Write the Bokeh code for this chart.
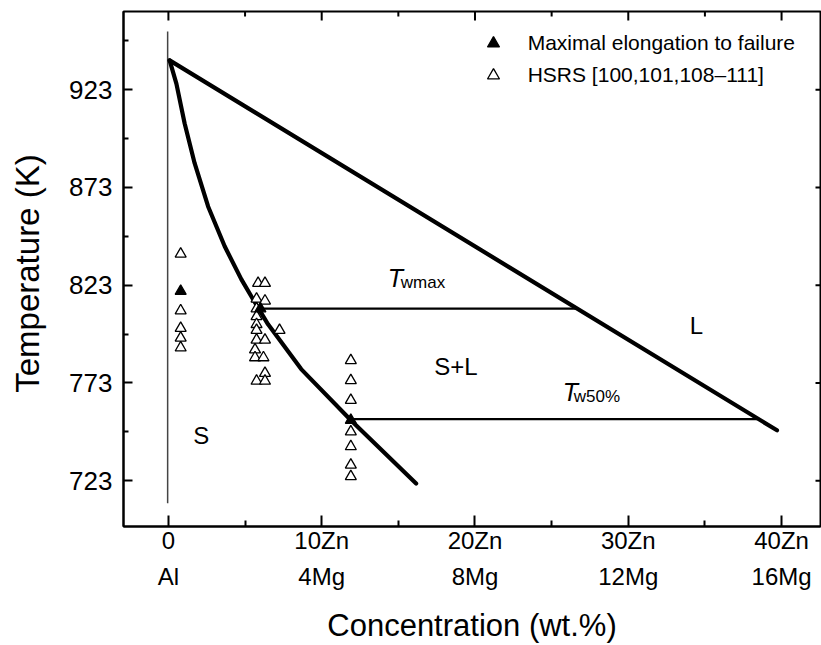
import math

from bokeh.plotting import figure
from bokeh.models import (LinearAxis, FixedTicker, Range1d, Legend, LegendItem, Label)
from bokeh.embed import file_html
from bokeh.resources import INLINE

# ---- Al-Zn-Mg pseudo-binary section (Zn:Mg = 10:4), wt.% Zn on x, K on y ----

# liquidus (straight line from the Al melting point)
liquidus_zn = [0.08, 39.7]
liquidus_t = [938.0, 748.8]

# solidus curve
solidus_zn = [0.08, 0.52, 1.06, 1.71, 2.59, 3.67, 4.76, 5.52, 6.50, 8.66, 11.92, 16.16]
solidus_t = [938.0, 926.1, 905.7, 885.4, 863.3, 842.9, 826.0, 815.8, 803.0, 780.1, 753.8, 721.6]

# isotherms
twmax_zn = [6.17, 26.69]
twmax_t = [811.0, 811.0]
tw50_zn = [11.92, 38.42]
tw50_t = [754.5, 754.5]

# pure Al reference line
al_zn = [-0.05, -0.05]
al_t = [952.8, 711.5]

# maximal elongation to failure
max_zn = [0.8, 6.0, 11.9]
max_t = [820.0, 811.0, 754.0]

# high strain rate superplasticity data
hsrs_zn = [0.8, 0.8, 0.8, 0.8, 0.8,
           5.85, 6.3, 5.75, 6.3, 5.75, 5.75, 5.75, 5.75, 7.25, 5.75, 6.3,
           5.65, 5.65, 6.2, 6.3, 5.75, 6.3,
           11.9, 11.9, 11.9, 11.9, 11.9, 11.9, 11.9]
hsrs_t = [839.0, 810.0, 801.0, 796.0, 791.0,
          824.0, 824.0, 816.0, 815.0, 811.0, 807.0, 803.0, 800.0, 800.0, 795.0, 795.0,
          790.0, 786.0, 786.0, 778.0, 774.0, 774.0,
          784.5, 774.3, 764.2, 748.1, 740.5, 731.1, 725.2]

# axis ticks and labels
zn_ticks = [0, 10, 20, 30, 40]
zn_minor = [5, 15, 25, 35]
zn_labels = ["0", "10Zn", "20Zn", "30Zn", "40Zn"]
mg_labels = ["Al", "4Mg", "8Mg", "12Mg", "16Mg"]
t_ticks = [723, 773, 823, 873, 923]
t_minor = [748, 798, 848, 898, 948]

FONT = "Liberation Sans"

x_range = Range1d(-2.93, 42.54)
y_range = Range1d(699.6, 963.0)

p = figure(width=821, height=645, x_range=x_range, y_range=y_range,
           output_backend="svg", toolbar_location=None,
           x_axis_location=None, y_axis_location=None,
           min_border_left=123, min_border_right=1,
           min_border_top=11, min_border_bottom=117)
p.grid.grid_line_color = None
p.outline_line_color = "black"
p.outline_line_width = 2
p.background_fill_color = "white"
p.border_fill_color = "white"


def style_ticks(ax, major_in, minor_in):
    ax.axis_line_color = "black"
    ax.axis_line_width = 2
    ax.major_tick_in = major_in
    ax.major_tick_out = 0
    ax.minor_tick_in = minor_in
    ax.minor_tick_out = 0
    ax.major_tick_line_width = 2
    ax.minor_tick_line_width = 2
    ax.major_tick_line_color = "black"
    ax.minor_tick_line_color = "black"


zn_ticker = FixedTicker(ticks=zn_ticks, minor_ticks=zn_minor)
t_ticker = FixedTicker(ticks=t_ticks, minor_ticks=t_minor)

# bottom axis: Zn row
ax_zn = LinearAxis(ticker=zn_ticker,
                   major_label_overrides={t: s for t, s in zip(zn_ticks, zn_labels)})
style_ticks(ax_zn, 11, 6)
ax_zn.major_label_text_font = FONT
ax_zn.major_label_text_font_size = "24px"
ax_zn.major_label_text_color = "black"
ax_zn.major_label_standoff = 0
p.add_layout(ax_zn, "below")

# bottom axis: Mg row and axis title
ax_mg = LinearAxis(ticker=zn_ticker,
                   major_label_overrides={t: s for t, s in zip(zn_ticks, mg_labels)},
                   axis_label="Concentration (wt.%)")
ax_mg.axis_line_color = None
ax_mg.major_tick_line_color = None
ax_mg.minor_tick_line_color = None
ax_mg.major_tick_in = 0
ax_mg.major_tick_out = 0
ax_mg.minor_tick_in = 0
ax_mg.minor_tick_out = 0
ax_mg.major_label_text_font = FONT
ax_mg.major_label_text_font_size = "24px"
ax_mg.major_label_text_color = "black"
ax_mg.major_label_standoff = 6
ax_mg.axis_label_text_font = FONT
ax_mg.axis_label_text_font_size = "31px"
ax_mg.axis_label_text_font_style = "normal"
ax_mg.axis_label_text_color = "black"
ax_mg.axis_label_standoff = 15
p.add_layout(ax_mg, "below")

# left axis
ax_t = LinearAxis(ticker=t_ticker, axis_label="Temperature  (K)")
style_ticks(ax_t, 9, 5)
ax_t.major_label_text_font = FONT
ax_t.major_label_text_font_size = "26px"
ax_t.major_label_text_color = "black"
ax_t.major_label_standoff = 11
ax_t.axis_label_text_font = FONT
ax_t.axis_label_text_font_size = "33px"
ax_t.axis_label_text_font_style = "normal"
ax_t.axis_label_text_color = "black"
ax_t.axis_label_standoff = 20
p.add_layout(ax_t, "left")

# inward ticks on the top and right frame edges
top_edge = y_range.end
right_edge = x_range.end
p.ray(x=zn_ticks, y=[top_edge] * len(zn_ticks), length=9, length_units="screen",
      angle=-math.pi / 2, line_color="black", line_width=2)
p.ray(x=zn_minor, y=[top_edge] * len(zn_minor), length=5, length_units="screen",
      angle=-math.pi / 2, line_color="black", line_width=2)
p.ray(x=[right_edge] * len(t_ticks), y=t_ticks, length=5, length_units="screen",
      angle=math.pi, line_color="black", line_width=2)

# phase boundaries
p.line(al_zn, al_t, line_color="#444444", line_width=1.5)
p.line(twmax_zn, twmax_t, line_color="black", line_width=2.2)
p.line(tw50_zn, tw50_t, line_color="black", line_width=2.2)
p.line(liquidus_zn, liquidus_t, line_color="black", line_width=4.2, line_cap="round")
p.line(solidus_zn, solidus_t, line_color="black", line_width=4.2, line_cap="round",
       line_join="round")

# data points
r_hsrs = p.scatter(hsrs_zn, hsrs_t, marker="triangle", size=11,
                   fill_color="white", line_color="black", line_width=1.3)
r_max = p.scatter(max_zn, max_t, marker="triangle", size=11,
                  fill_color="black", line_color="black", line_width=1.3)

# region and isotherm labels
for txt, x, y in [("S", 2.15, 746.2), ("S+L", 18.76, 781.4), ("L", 34.45, 802.6)]:
    p.add_layout(Label(x=x, y=y, text=txt, text_font=FONT, text_font_size="24px",
                       text_align="center", text_baseline="middle", text_color="black"))

for sub, x, y, dx, dy in [("wmax", 14.31, 826.5, 13, -4), ("w50%", 25.73, 768.5, 11, -5)]:
    p.add_layout(Label(x=x, y=y, text="T", text_font=FONT, text_font_size="25px",
                       text_font_style="italic", text_align="left",
                       text_baseline="alphabetic", text_color="black"))
    p.add_layout(Label(x=x, y=y, x_offset=dx, y_offset=dy, text=sub, text_font=FONT,
                       text_font_size="17px", text_align="left",
                       text_baseline="alphabetic", text_color="black"))

legend = Legend(items=[LegendItem(label="Maximal elongation to failure", renderers=[r_max]),
                       LegendItem(label="HSRS [100,101,108\u2013111]", renderers=[r_hsrs])],
                location=(354.7, 436.3), padding=0, margin=0, spacing=2,
                glyph_width=30, glyph_height=30, label_height=30, label_standoff=20,
                border_line_color=None, background_fill_alpha=0,
                label_text_font=FONT, label_text_font_size="21px",
                label_text_color="black")
p.add_layout(legend)

open("out.html", "w").write(file_html(p, INLINE))
